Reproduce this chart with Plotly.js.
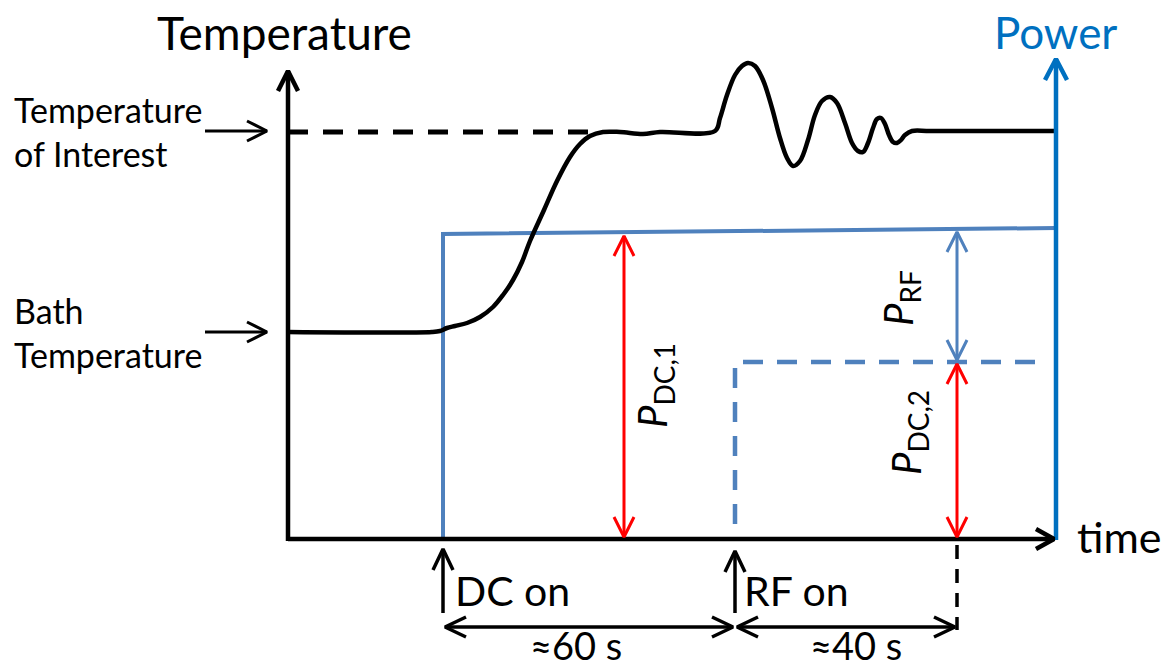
<!DOCTYPE html>
<html>
<head>
<meta charset="utf-8">
<script src="https://cdn.plot.ly/plotly-3.0.1.min.js"></script>
<style>html,body{margin:0;padding:0;background:#fff}#chart{width:1166px;height:669px}</style>
</head>
<body>
<div id="chart"></div>
<script>
// ---- schematic data (drawing units of the schematic) ----
const yAxisX = 288;          // time origin
const timeAxisY = 539;       // zero temperature / zero power level
const tDcOn = 443;           // DC heating switched on
const tRfOn = 735;           // RF heating switched on
const tMeasure = 957;        // measurement instant
const tEnd = 1056;           // end of time axis (power axis)
const tempBath = 332;        // bath temperature level
const tempInterest = 131;    // temperature of interest level
const tempTopAxis = 71;      // top of temperature axis
const powerTopAxis = 59;     // top of power axis

// temperature response (time, temperature)
const tempCurveT = [288, 432, 440, 447, 455, 467, 480, 493, 503, 513, 522, 530, 544, 557, 570, 580, 590, 603, 620, 643, 660, 715, 720, 727, 735, 742, 748, 755, 763, 772, 780, 787, 793, 800, 808, 815, 822, 830, 837, 845, 852, 858, 863, 868, 873, 877, 881, 885, 889, 893, 897, 901, 905, 912, 930, 1056];
const tempCurveV = [332, 332, 331, 328, 326, 323, 317, 307, 295, 280, 262, 241, 210, 181, 157, 144, 136, 132, 132, 134, 132, 131, 118, 95, 75, 66, 63, 66, 80, 108, 138, 158, 166, 161, 140, 115, 101, 97, 103, 123, 143, 151, 152, 143, 128, 119, 118, 124, 135, 142, 143, 140, 135, 131, 131, 131];

// power levels
const pDc1Start = 234;       // DC power level at DC-on
const pDc1End = 228;         // DC power level at end
const pDc2Level = 362;       // reduced DC power after RF-on
const rfDashBottom = 524;
const rfDashEnd = 1044;
const pDc1ArrowT = 624;
const pArrowT = 957;

// label texts
const leftLabels = [["Temperature", "of Interest"], ["Bath", "Temperature"]];
const leftLabelLevels = [tempInterest, tempBath];
const durations = ["≈60 s", "≈40 s"];
const eventLabels = ["DC on", "RF on"];

// ---- styles ----
const BLACK = '#000000';
const AXBLUE = '#0070C0';
const PBLUE = '#4F81BD';
const RED = '#FF0000';
const FONT = 'Lato, "Open Sans", sans-serif';

const traces = [];
function line(xs, ys, color, width, dash) {
  traces.push({type: 'scatter', mode: 'lines', x: xs, y: ys, hoverinfo: 'skip', showlegend: false,
    line: {color: color, width: width, dash: dash || 'solid'}});
}
function head(x1, y1, x2, y2, len, half) {
  const dx = x2 - x1, dy = y2 - y1, L = Math.hypot(dx, dy);
  const ux = dx / L, uy = dy / L, nx = -uy, ny = ux;
  return {x: [x2 - len * ux + half * nx, x2, x2 - len * ux - half * nx],
          y: [y2 - len * uy + half * ny, y2, y2 - len * uy - half * ny]};
}
function arrow(x1, y1, x2, y2, color, width, both, len, half) {
  len = len || 20; half = half || 10;
  const xs = [x1, x2, null], ys = [y1, y2, null];
  const h = head(x1, y1, x2, y2, len, half);
  xs.push(...h.x, null); ys.push(...h.y, null);
  if (both) {
    const h2 = head(x2, y2, x1, y1, len, half);
    xs.push(...h2.x); ys.push(...h2.y);
  }
  line(xs, ys, color, width);
}

// dashed target temperature
line([yAxisX, 600], [tempInterest + 1, tempInterest + 1], BLACK, 5, '20px,15px');
// power: DC step
line([tDcOn, tDcOn, tEnd], [timeAxisY, pDc1Start, pDc1End], PBLUE, 4);
// power: reduced DC after RF on (dashed)
line([tRfOn, tRfOn, rfDashEnd], [rfDashBottom, pDc2Level, pDc2Level], PBLUE, 4.5, '20px,14px');
// temperature curve
traces.push({type: 'scatter', mode: 'lines', x: tempCurveT, y: tempCurveV, hoverinfo: 'skip', showlegend: false,
  line: {color: BLACK, width: 4.5, shape: 'spline', smoothing: 1}});
// axes
arrow(yAxisX, timeAxisY + 2, yAxisX, tempTopAxis, BLACK, 4.5, false, 20, 10);
arrow(tEnd, timeAxisY + 1, tEnd, powerTopAxis, AXBLUE, 4.5, false, 21, 11);
arrow(yAxisX, timeAxisY, tEnd - 2, timeAxisY, BLACK, 4.5, false, 18, 10);
// power arrows
arrow(pDc1ArrowT, timeAxisY - 2, pDc1ArrowT, pDc1Start + 2, RED, 3, true, 20, 10);
arrow(pArrowT, pDc2Level - 2, pArrowT, pDc1End + 4, PBLUE, 3, true, 20, 10);
arrow(pArrowT, timeAxisY - 2, pArrowT, pDc2Level + 2, RED, 3, true, 20, 10);
// left label arrows
leftLabelLevels.forEach(v => arrow(205, v, 267, v, BLACK, 3, false, 20, 10));
// event arrows
arrow(tDcOn, 613, tDcOn, 549, BLACK, 3.5, false, 21, 10);
arrow(tRfOn, 613, tRfOn, 551, BLACK, 3.5, false, 21, 10);
// dashed measurement marker
line([tMeasure, tMeasure], [545, 630], BLACK, 3.5, '14px,10px');
// duration arrows
arrow(tDcOn + 2, 627, tRfOn - 2, 627, BLACK, 3.5, true, 21, 10);
arrow(tRfOn + 2, 627, tMeasure - 2, 627, BLACK, 3.5, true, 21, 10);

const ann = [];
function txt(text, x, y, size, opts) {
  ann.push(Object.assign({text: text, x: x, y: y, xref: 'x', yref: 'y', showarrow: false,
    font: {family: FONT, size: size, color: BLACK}, xanchor: 'center', yanchor: 'middle'}, opts || {}));
}
txt('Temperature', 284, 32, 46);
txt('Power', 1055, 32, 44, {font: {family: FONT, size: 44, color: AXBLUE}});
txt('time', 1075, 536, 43, {xanchor: 'left'});
leftLabels.forEach((lines, i) => {
  txt(lines[0], 12, leftLabelLevels[i] - 22, 34, {xanchor: 'left'});
  txt(lines[1], 12, leftLabelLevels[i] + 22, 34, {xanchor: 'left'});
});
txt(eventLabels[0], 453, 590, 41, {xanchor: 'left'});
txt(eventLabels[1], 742, 590, 41, {xanchor: 'left'});
txt(durations[0], 576, 645, 38);
txt(durations[1], 856, 645, 38);
txt('<i>P</i><sub>DC,1</sub>', 654, 386, 40, {textangle: -90});
txt('<i>P</i><sub>RF</sub>', 900, 298, 40, {textangle: -90});
txt('<i>P</i><sub>DC,2</sub>', 908, 433, 40, {textangle: -90});

Plotly.newPlot('chart', traces, {
  width: 1166, height: 669,
  margin: {l: 0, r: 0, t: 0, b: 0, pad: 0},
  paper_bgcolor: '#ffffff', plot_bgcolor: '#ffffff',
  xaxis: {range: [0, 1166], visible: false, fixedrange: true},
  yaxis: {range: [669, 0], visible: false, fixedrange: true},
  annotations: ann,
  showlegend: false
}, {staticPlot: true});
</script>
</body>
</html>
